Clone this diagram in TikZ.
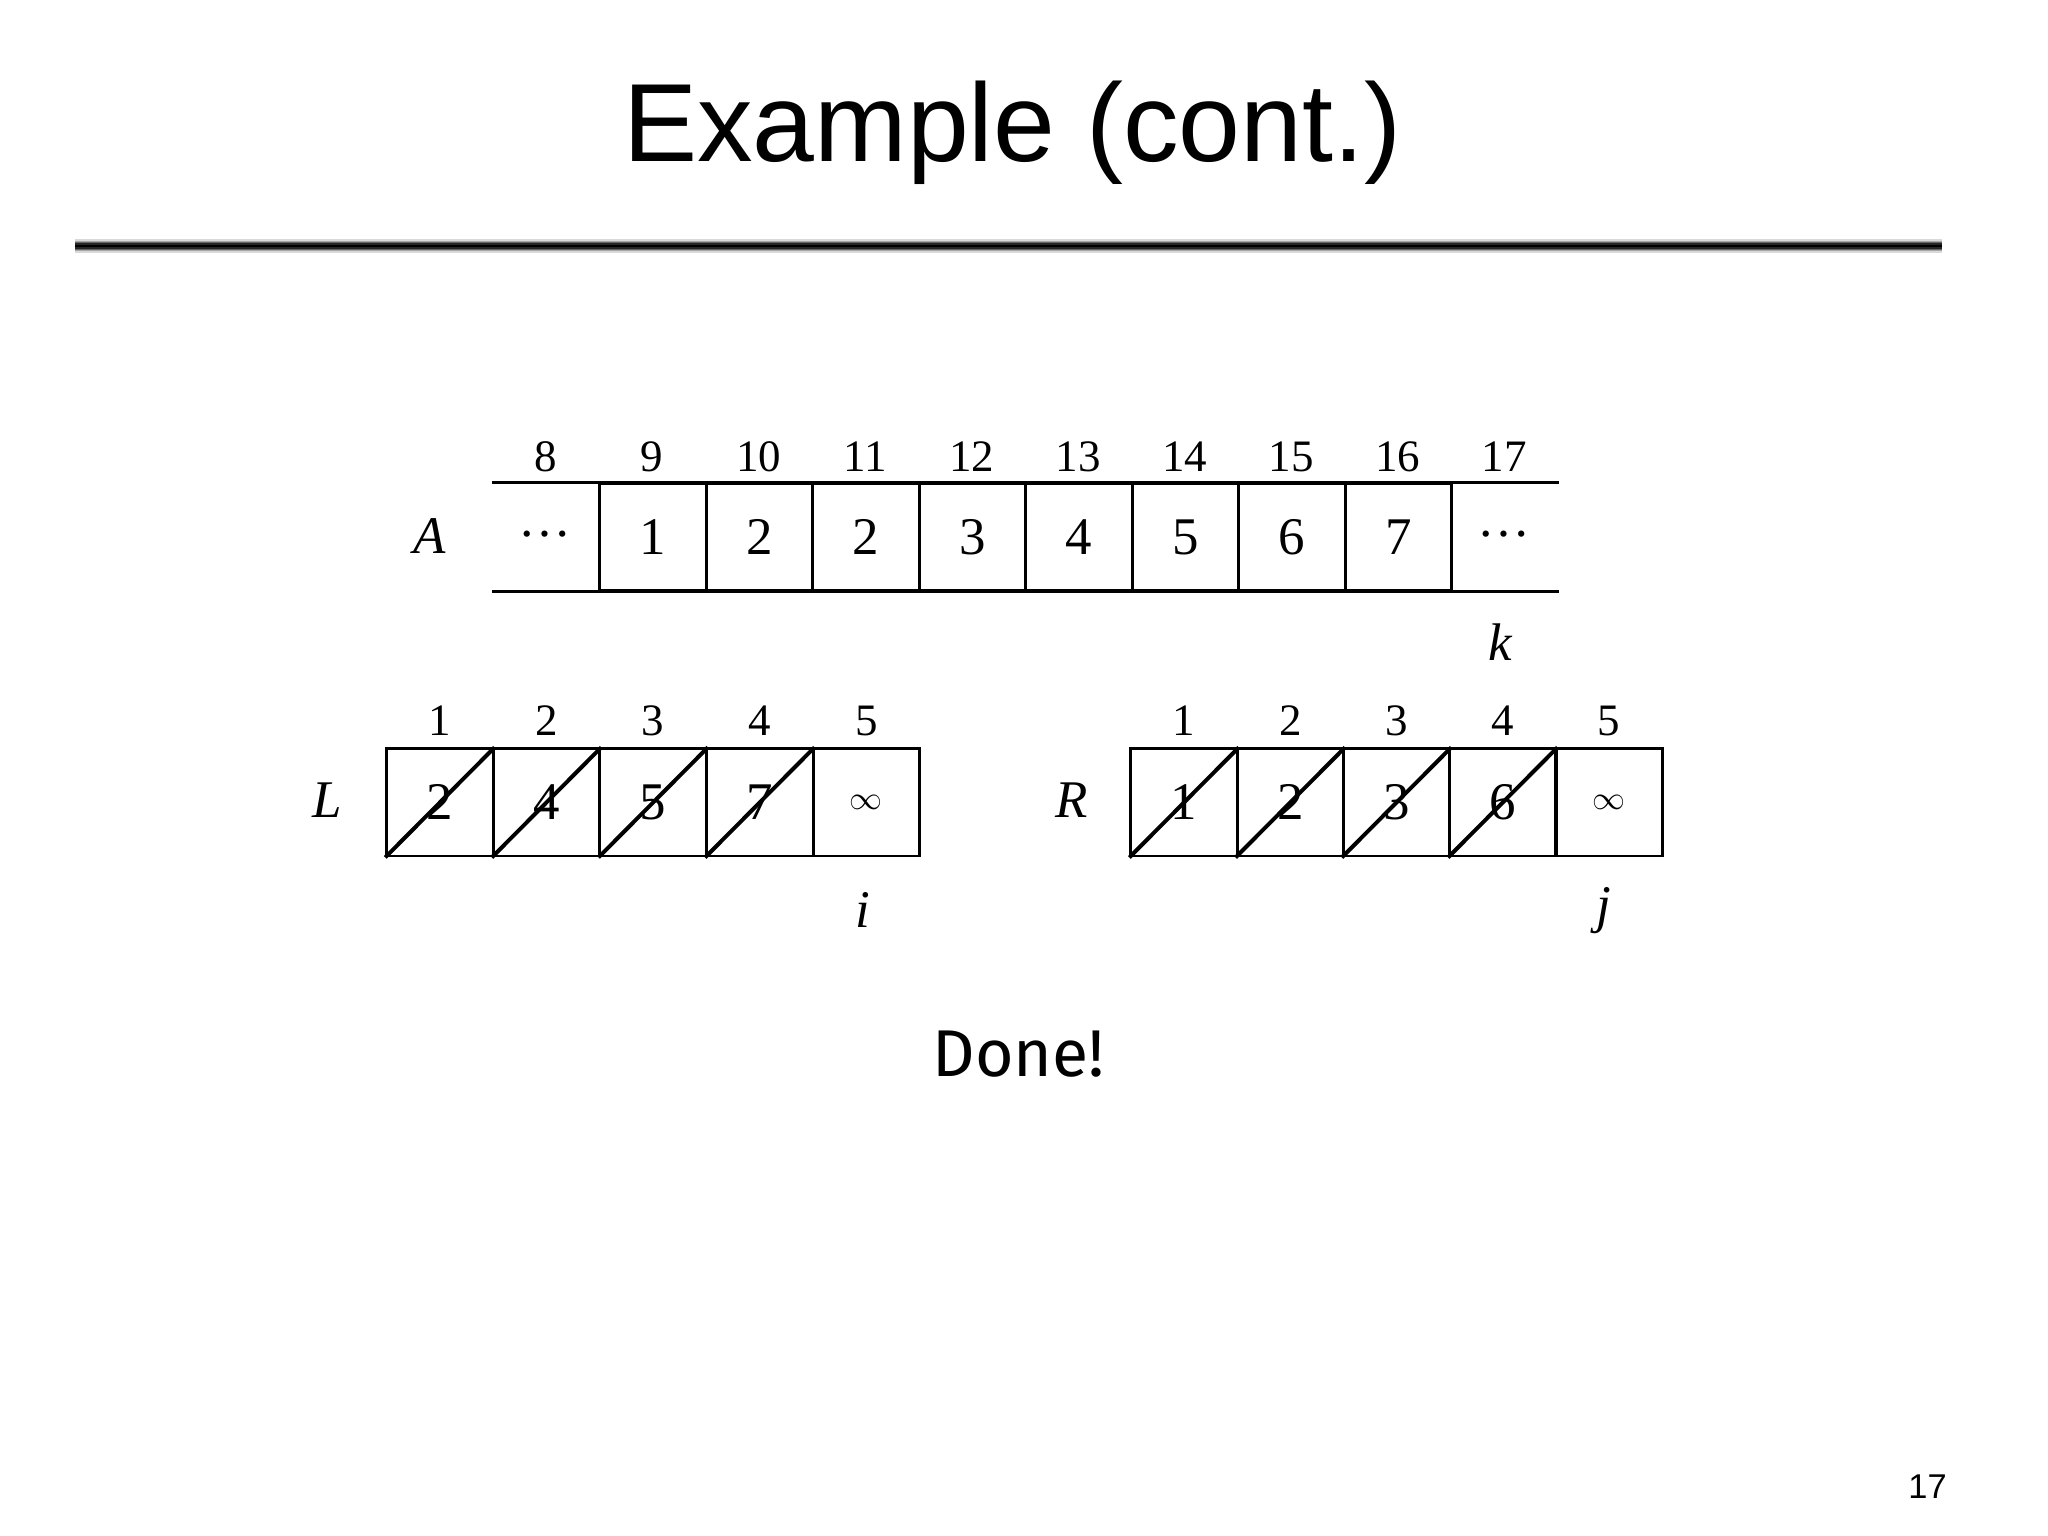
\documentclass[tikz,border=0pt]{standalone}
\usepackage{fontspec}
\setmainfont{Liberation Serif}
\newfontfamily\hv{Liberation Sans}
\newfontfamily\cm{Fira Sans}
\begin{document}
\begin{tikzpicture}[x=1pt,y=-1pt,
  cellbox/.style={draw,line width=2.2pt,minimum width=80.5pt,minimum height=81pt,inner sep=0pt,font=\fontsize{40}{40}\selectfont},
  idx/.style={font=\fontsize{34}{34}\selectfont},
  lbl/.style={font=\fontsize{40}{40}\selectfont\itshape},
  slash/.style={line width=3pt}]
\useasboundingbox (0,0) rectangle (1548,1161);
\node[font=\hv\fontsize{84}{84}\selectfont] (title) at (765,100) {Example (cont.)};
\foreach \w/\c in {10/black!15,8/black!35,6/black!60,4/black!85,2/black}
  \draw[line width=\w pt,color=\c] (57,186) -- (1468,186);
% A array
\draw[line width=2.2pt] (372,365) -- (1178,365) (372,447) -- (1178,447);
\node[font=\fontsize{40}{40}\selectfont] (ad1) at (412,404) {\dots};
\node[font=\fontsize{40}{40}\selectfont] (ad2) at (1137,404) {\dots};
\foreach \v [count=\n from 0] in {1,2,2,3,4,5,6,7}
  \node[cellbox] (a\n) at ({493.5+80.5*\n},406) {\v};
\foreach \v [count=\n from 0] in {8,9,10,11,12,13,14,15,16,17}
  \node[idx] (ai\n) at ({412.5+80.5*\n},345) {\v};
\node[lbl] (A) at (325,405) {A};
\node[lbl] (k) at (1134,485) {k};
% L
\foreach \v [count=\n from 0] in {2,4,5,7,$\infty$}
  \node[cellbox] (l\n) at ({332.5+80.6*\n},606.5) {\v};
\foreach \n in {0,...,3} \draw[slash] (l\n.south west) -- (l\n.north east);
\foreach \n [count=\m from 0] in {1,...,5} \node[idx] (li\m) at ({332.5+80.6*\m},545) {\n};
\node[lbl] (L) at (247,605) {L};
\node[lbl] (i) at (652,688) {i};
% R
\foreach \v [count=\n from 0] in {1,2,3,6,$\infty$}
  \node[cellbox] (r\n) at ({895+80.3*\n},606.5) {\v};
\foreach \n in {0,...,3} \draw[slash] (r\n.south west) -- (r\n.north east);
\foreach \n [count=\m from 0] in {1,...,5} \node[idx] (ri\m) at ({895+80.3*\m},545) {\n};
\node[lbl] (R) at (810,605) {R};
\node[lbl] (j) at (1212,688) {j};
\node[font=\cm\fontsize{50}{50}\selectfont] (done) at (770,797) {Done!};
\node[font=\hv\fontsize{26}{26}\selectfont] (pg) at (1457,1124) {17};
\end{tikzpicture}
\end{document}
